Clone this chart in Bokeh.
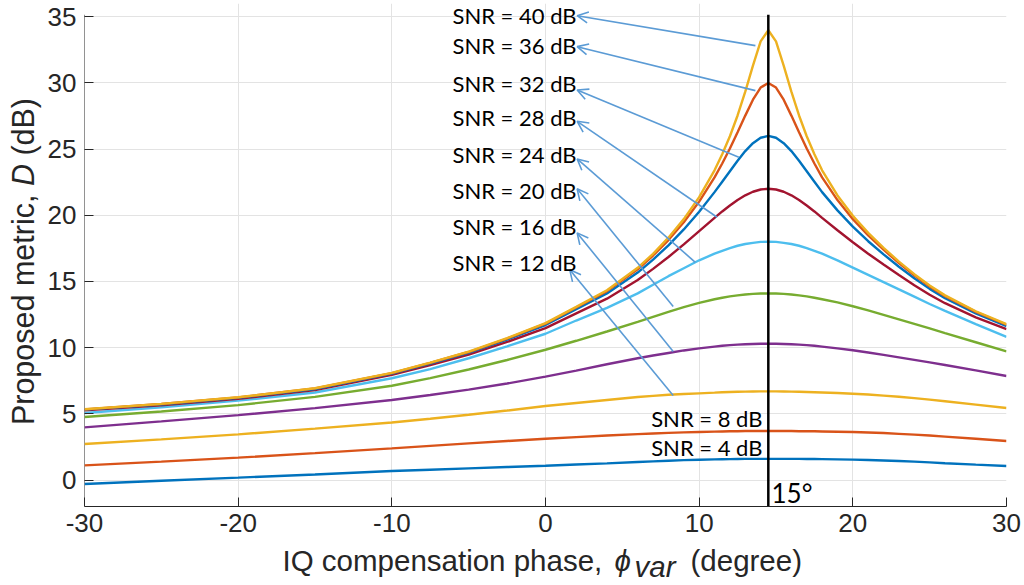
import math
from bokeh.plotting import figure
from bokeh.layouts import column, row
from bokeh.models import Label, Arrow, OpenHead, FixedTicker, Range1d, ColumnDataSource
from bokeh.core.properties import value
from bokeh.embed import file_html
from bokeh.resources import INLINE

# ---------------- data ----------------
phi = [-30, -25, -20, -15, -10, -7.5, -5, -2.5, 0, 2, 4, 6, 7, 8, 9, 10, 11, 11.5, 12, 12.5, 13, 13.5, 14,
       14.5, 15, 15.5, 16, 16.5, 17, 17.5, 18, 19, 20, 21, 22, 23, 24, 25, 26, 28, 30]

snr_db = [4, 8, 12, 16, 20, 24, 28, 32, 36, 40]

d_4 = [-0.3, -0.05, 0.18, 0.42, 0.68, 0.78, 0.88, 0.98, 1.08, 1.17, 1.26, 1.36, 1.41, 1.46, 1.5, 1.53, 1.56, 1.57,
       1.58, 1.59, 1.595, 1.6, 1.6, 1.6, 1.6, 1.6, 1.6, 1.595, 1.59, 1.585, 1.58,
       1.56, 1.54, 1.51, 1.48, 1.44, 1.39, 1.33, 1.27, 1.16, 1.06]
d_8 = [1.11, 1.39, 1.69, 2.03, 2.39, 2.58, 2.77, 2.95, 3.12, 3.24, 3.36, 3.47, 3.52, 3.56, 3.6, 3.63, 3.66, 3.67,
       3.68, 3.69, 3.7, 3.7, 3.7, 3.7, 3.7, 3.7, 3.7, 3.69, 3.69, 3.68, 3.67,
       3.65, 3.63, 3.59, 3.55, 3.49, 3.43, 3.36, 3.28, 3.12, 2.95]
d_12 = [2.72, 3.07, 3.45, 3.88, 4.35, 4.63, 4.93, 5.25, 5.59, 5.82, 6.05, 6.27, 6.36, 6.44, 6.5, 6.55, 6.6, 6.63,
        6.65, 6.67, 6.68, 6.69, 6.7, 6.7, 6.7, 6.69, 6.68, 6.67, 6.65, 6.63, 6.61,
        6.57, 6.52, 6.46, 6.38, 6.29, 6.19, 6.07, 5.95, 5.7, 5.44]
d_16 = [3.98, 4.43, 4.9, 5.43, 6.05, 6.42, 6.83, 7.29, 7.81, 8.27, 8.75, 9.2, 9.41, 9.6, 9.79, 9.95, 10.08, 10.14,
        10.19, 10.23, 10.26, 10.28, 10.3, 10.3, 10.3, 10.28, 10.26, 10.23, 10.19, 10.14, 10.08,
        9.95, 9.8, 9.63, 9.45, 9.27, 9.08, 8.89, 8.69, 8.28, 7.86]
d_20 = [4.76, 5.18, 5.66, 6.28, 7.12, 7.7, 8.35, 9.07, 9.84, 10.52, 11.22, 11.95, 12.33, 12.7, 13.06, 13.38, 13.66,
        13.77, 13.87, 13.95, 14.02, 14.06, 14.09, 14.1, 14.09, 14.06, 14.02, 13.95, 13.87, 13.77, 13.66,
        13.42, 13.13, 12.82, 12.48, 12.14, 11.8, 11.45, 11.1, 10.41, 9.72]
d_24 = [5.06, 5.5, 6.0, 6.61, 7.69, 8.38, 9.2, 10.1, 11.05, 12.05, 13.0, 14.1, 14.75, 15.4, 16.0, 16.6, 17.1, 17.32,
        17.52, 17.7, 17.83, 17.92, 17.99, 18.0, 17.99, 17.92, 17.83, 17.7, 17.52, 17.32, 17.1,
        16.6, 16.05, 15.5, 14.95, 14.4, 13.85, 13.3, 12.78, 11.78, 10.82]
d_28 = [5.26, 5.65, 6.14, 6.8, 7.94, 8.68, 9.47, 10.43, 11.47, 12.59, 13.7, 15.11, 15.95, 16.85, 17.8, 18.8, 19.8,
        20.29, 20.74, 21.16, 21.51, 21.78, 21.95, 22.01, 21.95, 21.78, 21.51, 21.16, 20.74, 20.29, 19.8,
        18.87, 17.96, 17.1, 16.29, 15.49, 14.72, 14.0, 13.36, 12.29, 11.4]
d_32 = [5.32, 5.71, 6.21, 6.88, 8.04, 8.8, 9.61, 10.61, 11.71, 12.9, 14.1, 15.67, 16.65, 17.73, 18.93, 20.27, 21.75,
        22.54, 23.33, 24.12, 24.85, 25.45, 25.86, 26.0, 25.86, 25.45, 24.85, 24.12, 23.33, 22.54, 21.75,
        20.37, 19.14, 18.04, 17.05, 16.11, 15.24, 14.44, 13.73, 12.58, 11.63]
d_36 = [5.34, 5.74, 6.24, 6.92, 8.08, 8.85, 9.67, 10.69, 11.81, 13.03, 14.27, 15.92, 16.96, 18.13, 19.47, 21.03,
        22.86, 23.91, 25.04, 26.27, 27.53, 28.73, 29.65, 30.0, 29.65, 28.73, 27.53, 26.27, 25.04, 23.91, 22.86,
        21.15, 19.71, 18.48, 17.4, 16.39, 15.46, 14.62, 13.89, 12.7, 11.73]
d_40 = [5.35, 5.75, 6.25, 6.93, 8.1, 8.87, 9.7, 10.72, 11.85, 13.08, 14.34, 16.03, 17.09, 18.31, 19.71, 21.37,
        23.4, 24.61, 25.97, 27.54, 29.34, 31.31, 33.14, 33.98, 33.14, 31.31, 29.34, 27.54, 25.97, 24.61, 23.4,
        21.5, 19.97, 18.67, 17.54, 16.5, 15.55, 14.7, 13.95, 12.75, 11.77]

series = [d_4, d_8, d_12, d_16, d_20, d_24, d_28, d_32, d_36, d_40]

peak_phase = 14.5

x_ticks = [-30, -20, -10, 0, 10, 20, 30]
y_ticks = [0, 5, 10, 15, 20, 25, 30, 35]
x_lim = (-30, 30)
y_lim = (-2, 36.0)
y_top = 35.15

# annotation text / arrow positions (data coordinates)
label_texts = ["SNR = 40 dB", "SNR = 36 dB", "SNR = 32 dB", "SNR = 28 dB",
               "SNR = 24 dB", "SNR = 20 dB", "SNR = 16 dB", "SNR = 12 dB"]
label_x = 2.02
label_y = [35.08, 32.82, 29.95, 27.38, 24.59, 21.87, 19.15, 16.43]
arrow_head_x = [2.06, 2.06, 2.06, 2.06, 2.06, 2.06, 2.06, 1.58]
arrow_head_y = [35.08, 32.74, 29.47, 27.10, 24.26, 22.0, 18.67, 15.88]
arrow_tail_x = [13.66, 13.66, 12.58, 11.17, 9.75, 8.31, 8.31, 8.31]
arrow_tail_y = [32.82, 29.42, 24.38, 19.85, 16.45, 13.11, 9.71, 6.38]

low_texts = ["SNR = 8 dB", "SNR = 4 dB"]
low_x = 14.12
low_y = [4.62, 2.43]

colors = ["#0072BD", "#D95319", "#EDB120", "#7E2F8E", "#77AC30",
          "#4DBEEE", "#A2142F", "#0072BD", "#D95319", "#EDB120"]

AX = "#262626"

# ---------------- main figure ----------------
BORDER_BOTTOM = 36
p = figure(frame_width=922, frame_height=503,
           min_border_left=42, min_border_right=18, min_border_top=3, min_border_bottom=BORDER_BOTTOM,
           x_range=Range1d(*x_lim), y_range=Range1d(*y_lim),
           output_backend="svg", toolbar_location=None, title=None)
p.outline_line_color = None
p.background_fill_color = "white"
p.border_fill_color = "white"

for ax, ticks in ((p.xaxis[0], x_ticks), (p.yaxis[0], y_ticks)):
    ax.ticker = FixedTicker(ticks=ticks)
    ax.major_tick_in = 9
    ax.major_tick_out = 0
    ax.minor_tick_line_color = None
    ax.axis_line_color = AX
    ax.major_tick_line_color = AX
    ax.major_label_text_font = "Liberation Sans"
    ax.major_label_text_font_size = "26px"
    ax.major_label_text_color = AX
p.yaxis.axis_line_color = None
p.xaxis.major_label_overrides = {t: str(t) for t in x_ticks}
p.xaxis.major_label_standoff = 7
p.yaxis.major_label_standoff = 8

p.xgrid.ticker = FixedTicker(ticks=x_ticks)
p.ygrid.ticker = FixedTicker(ticks=y_ticks)
for g in (p.xgrid[0], p.ygrid[0]):
    g.grid_line_color = "#e3e3e3"
    g.grid_line_width = 1

# left axis line up to the top limit
p.segment(x0=[x_lim[0]], y0=[y_lim[0]], x1=[x_lim[0]], y1=[y_top], line_color=AX, line_width=1)

for vals, c in zip(series, colors):
    src = ColumnDataSource(dict(x=phi, y=vals))
    p.line("x", "y", source=src, line_color=c, line_width=2.4)

# vertical marker at the peak phase
p.segment(x0=[peak_phase], y0=[y_lim[0]], x1=[peak_phase], y1=[y_top], line_color="black", line_width=2.5)

arrow_src = ColumnDataSource(dict(xs=arrow_tail_x, ys=arrow_tail_y, xe=arrow_head_x, ye=arrow_head_y))
p.add_layout(Arrow(end=OpenHead(size=11, line_color="#5B9BD5", line_width=1.6),
                   x_start="xs", y_start="ys", x_end="xe", y_end="ye", source=arrow_src,
                   line_color="#5B9BD5", line_width=1.6))

for t, yy in zip(label_texts, label_y):
    p.add_layout(Label(x=label_x, y=yy, text=t, text_align="right", text_baseline="middle",
                       text_font="Lato", text_font_size="22px", text_color="black"))
for t, yy in zip(low_texts, low_y):
    p.add_layout(Label(x=low_x, y=yy, text=t, text_align="right", text_baseline="middle",
                       text_font="Lato", text_font_size="22px", text_color="black"))
p.add_layout(Label(x=14.71, y=-0.98, text="15°", text_align="left", text_baseline="middle",
                   text_font="Lato", text_font_size="26px", text_color="black"))

# ---------------- axis titles (separate strips) ----------------
lab_font = value("Liberation Sans")


def strip(w, h):
    f = figure(frame_width=w, frame_height=h, x_range=Range1d(0, w), y_range=Range1d(0, h),
               min_border=0, min_border_left=0, min_border_right=0, min_border_top=0, min_border_bottom=0,
               x_axis_type=None, y_axis_type=None,
               output_backend="svg", toolbar_location=None, title=None)
    f.outline_line_color = None
    f.background_fill_color = "white"
    f.border_fill_color = "white"
    f.grid.visible = False
    return f


main_h = 3 + 503 + BORDER_BOTTOM

# y title strip: 42 px wide, same height as the main figure
ys = strip(42, main_h)
ylab_parts = ["Proposed", "metric,", "D", "(dB)"]
ylab_style = ["normal", "normal", "italic", "normal"]
ylab_start = [421.6, 282.6, 182.6, 152.1]
for t, st, yy in zip(ylab_parts, ylab_style, ylab_start):
    ys.text(x=[22.9], y=[main_h - yy], text=[t], angle=math.pi / 2, text_align="left",
            text_baseline="middle", text_font=lab_font, text_font_size=value("30.5px"),
            text_font_style=st, text_color=AX)

# x title strip: full width, below the main figure
strip_h = 585 - main_h
xs_ = strip(1024, strip_h)
xlab_parts = ["IQ compensation phase,", "\u03d5", "var", "(degree)"]
xlab_style = ["normal", "italic", "italic", "normal"]
xlab_x = [282, 614, 634, 690]
xlab_base = [570, 570, 576.5, 570]
for t, st, xx, yb in zip(xlab_parts, xlab_style, xlab_x, xlab_base):
    xs_.text(x=[xx], y=[585 - (yb - 0.3465 * 29.5)], text=[t], text_align="left", text_baseline="middle",
             text_font=lab_font, text_font_size=value("29.5px"), text_font_style=st, text_color=AX)

layout = column(row(ys, p), xs_)
open("out.html", "w").write(file_html(layout, INLINE))
